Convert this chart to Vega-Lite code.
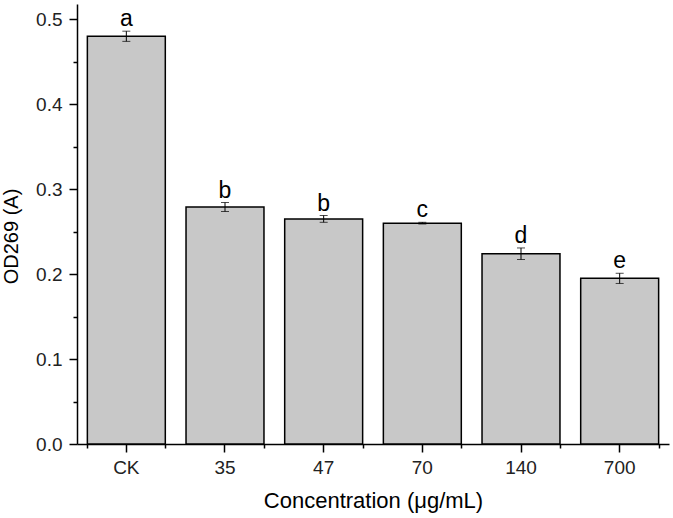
{
  "$schema": "https://vega.github.io/schema/vega-lite/v6.json",
  "autosize": "none",
  "width": 592,
  "height": 440,
  "padding": {"left": 77, "top": 4, "right": 4, "bottom": 74},
  "config": {
    "font": "Liberation Sans",
    "view": {"stroke": null},
    "axis": {"grid": false, "domainColor": "black", "tickColor": "black", "labelColor": "#222222", "titleColor": "black", "domainWidth": 1.5, "tickWidth": 1.5, "labelFont": "Liberation Sans", "titleFont": "Liberation Sans", "titleFontWeight": "normal"}
  },
  "data": {
    "values": [
      {"conc": "CK", "mean": 0.480, "err": 0.006, "group": "a"},
      {"conc": "35", "mean": 0.279, "err": 0.0053, "group": "b"},
      {"conc": "47", "mean": 0.265, "err": 0.004, "group": "b"},
      {"conc": "70", "mean": 0.260, "err": 0.001, "group": "c"},
      {"conc": "140", "mean": 0.224, "err": 0.0068, "group": "d"},
      {"conc": "700", "mean": 0.195, "err": 0.006, "group": "e"}
    ]
  },
  "resolve": {"axis": {"x": "independent", "y": "independent"}},
  "layer": [
    {
      "mark": {"type": "bar", "fill": "#c8c8c8", "stroke": "black", "strokeWidth": 1.5},
      "encoding": {
        "x": {"field": "conc", "type": "nominal", "sort": null,
          "scale": {"paddingInner": 0.21, "paddingOuter": 0.105},
          "axis": {"orient": "bottom", "title": "Concentration (μg/mL)", "labelAngle": 0, "labelFontSize": 19, "titleFontSize": 22, "tickSize": 8, "labelPadding": 6, "titlePadding": 13}},
        "y": {"field": "mean", "type": "quantitative",
          "scale": {"domain": [0, 0.518], "nice": false},
          "axis": {"orient": "left", "title": "OD269 (A)", "values": [0, 0.1, 0.2, 0.3, 0.4, 0.5], "format": ".1f", "labelFontSize": 19, "titleFontSize": 20, "tickSize": 8, "labelPadding": 7, "titlePadding": 14, "titleY": 232}}
      }
    },
    {
      "mark": {"type": "errorbar", "color": "black", "thickness": 1, "ticks": {"size": 8, "color": "black", "thickness": 1}},
      "encoding": {
        "x": {"field": "conc", "type": "nominal", "sort": null, "axis": null},
        "y": {"field": "mean", "type": "quantitative", "axis": null},
        "yError": {"field": "err"}
      }
    },
    {
      "transform": [{"calculate": "datum.mean + datum.err", "as": "upper"}],
      "mark": {"type": "text", "fontSize": 23, "baseline": "alphabetic", "dy": -5, "color": "black"},
      "encoding": {
        "x": {"field": "conc", "type": "nominal", "sort": null, "axis": null},
        "y": {"field": "upper", "type": "quantitative", "axis": null},
        "text": {"field": "group"}
      }
    },
    {
      "mark": {"type": "point", "opacity": 0},
      "encoding": {
        "x": {"field": "conc", "type": "nominal", "sort": null,
          "axis": {"orient": "bottom", "tickBand": "extent", "labels": false, "domain": false, "tickSize": 4, "title": null}},
        "y": {"field": "mean", "type": "quantitative",
          "axis": {"orient": "left", "values": [0.05, 0.15, 0.25, 0.35, 0.45], "labels": false, "domain": false, "tickSize": 4, "title": null}}
      }
    }
  ]
}
